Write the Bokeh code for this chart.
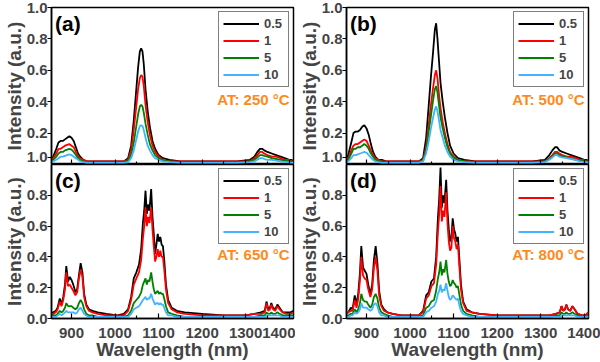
from bokeh.plotting import figure
from bokeh.layouts import gridplot
from bokeh.models import FixedTicker, Legend, LegendItem, Label, Range1d, NumeralTickFormatter
from bokeh.embed import file_html
from bokeh.resources import INLINE

# ---------------- data ----------------
series_labels = ["0.5", "1", "5", "10"]
panel_tags = ["(a)", "(b)", "(c)", "(d)"]
temperatures = ["AT: 250 °C", "AT: 500 °C", "AT: 650 °C", "AT: 800 °C"]
x_ticks = [900, 1000, 1100, 1200, 1300, 1400]
x_minor = [850, 950, 1050, 1150, 1250, 1350]
# upper panels: the lowest label ("1.0") belongs visually to the lower panel's top
y_ticks_top = [0.045, 0.2, 0.4, 0.6, 0.8, 1.0]
y_label_overrides_top = {0.045: "1.0"}
y_ticks_bottom = [0.0, 0.2, 0.4, 0.6, 0.8]

# wavelength grid for the smooth spectra (a), (b)
wl_ab = [850, 858, 865, 870, 875, 880, 885, 890,
         895, 900, 905, 910, 915, 920, 927, 935,
         945, 960, 1000, 1020, 1030, 1037, 1043, 1048,
         1053, 1057, 1060, 1063, 1066, 1070, 1075, 1080,
         1086, 1092, 1100, 1110, 1125, 1150, 1200, 1280,
         1310, 1320, 1327, 1333, 1338, 1343, 1350, 1360,
         1370, 1380, 1390, 1400, 1405, 1410]

a_05 = [0.02, 0.05, 0.10, 0.14, 0.15, 0.15, 0.16, 0.17,
        0.18, 0.17, 0.15, 0.11, 0.07, 0.05, 0.03, 0.02,
        0.02, 0.02, 0.02, 0.02, 0.04, 0.12, 0.28, 0.45,
        0.62, 0.72, 0.74, 0.72, 0.64, 0.48, 0.34, 0.24,
        0.15, 0.10, 0.06, 0.04, 0.03, 0.02, 0.02, 0.02,
        0.03, 0.05, 0.08, 0.10, 0.10, 0.09, 0.08, 0.07,
        0.06, 0.05, 0.04, 0.03, 0.03, 0.02]
a_1 = [0.02, 0.04, 0.07, 0.10, 0.10, 0.11, 0.12, 0.125,
       0.13, 0.12, 0.11, 0.08, 0.05, 0.04, 0.03, 0.02,
       0.02, 0.02, 0.02, 0.02, 0.03, 0.09, 0.22, 0.35,
       0.48, 0.55, 0.57, 0.56, 0.50, 0.38, 0.27, 0.19,
       0.12, 0.08, 0.05, 0.03, 0.02, 0.02, 0.02, 0.02,
       0.02, 0.04, 0.06, 0.08, 0.08, 0.07, 0.06, 0.05,
       0.05, 0.04, 0.03, 0.03, 0.02, 0.02]
a_5 = [0.015, 0.03, 0.05, 0.07, 0.08, 0.08, 0.09, 0.095,
       0.10, 0.095, 0.08, 0.06, 0.04, 0.03, 0.02, 0.015,
       0.015, 0.015, 0.015, 0.015, 0.025, 0.06, 0.14, 0.23,
       0.32, 0.37, 0.38, 0.37, 0.33, 0.26, 0.19, 0.13,
       0.09, 0.06, 0.04, 0.025, 0.02, 0.015, 0.015, 0.015,
       0.02, 0.03, 0.045, 0.06, 0.06, 0.055, 0.05, 0.04,
       0.035, 0.03, 0.025, 0.02, 0.02, 0.015]
a_10 = [0.01, 0.02, 0.03, 0.04, 0.05, 0.05, 0.055, 0.06,
        0.065, 0.06, 0.05, 0.04, 0.03, 0.02, 0.015, 0.01,
        0.01, 0.01, 0.01, 0.01, 0.015, 0.04, 0.09, 0.15,
        0.21, 0.245, 0.25, 0.245, 0.22, 0.17, 0.12, 0.09,
        0.06, 0.04, 0.03, 0.02, 0.015, 0.01, 0.01, 0.01,
        0.015, 0.02, 0.03, 0.04, 0.04, 0.035, 0.03, 0.03,
        0.025, 0.02, 0.015, 0.015, 0.01, 0.01]

b_05 = [0.02, 0.06, 0.14, 0.20, 0.21, 0.21, 0.22, 0.24,
        0.25, 0.23, 0.19, 0.13, 0.08, 0.05, 0.03, 0.03,
        0.02, 0.02, 0.02, 0.02, 0.04, 0.17, 0.38, 0.56,
        0.72, 0.86, 0.90, 0.80, 0.68, 0.52, 0.40, 0.30,
        0.20, 0.12, 0.07, 0.04, 0.03, 0.02, 0.02, 0.02,
        0.03, 0.06, 0.09, 0.11, 0.11, 0.09, 0.08, 0.07,
        0.06, 0.05, 0.04, 0.03, 0.03, 0.02]
b_1 = [0.02, 0.04, 0.09, 0.12, 0.13, 0.13, 0.14, 0.15,
       0.16, 0.15, 0.12, 0.09, 0.06, 0.04, 0.03, 0.02,
       0.02, 0.02, 0.02, 0.02, 0.03, 0.11, 0.26, 0.38,
       0.49, 0.57, 0.60, 0.55, 0.46, 0.36, 0.27, 0.20,
       0.13, 0.08, 0.05, 0.03, 0.02, 0.02, 0.02, 0.02,
       0.02, 0.04, 0.06, 0.08, 0.08, 0.07, 0.06, 0.05,
       0.05, 0.04, 0.03, 0.03, 0.02, 0.02]
b_5 = [0.015, 0.03, 0.07, 0.10, 0.10, 0.11, 0.11, 0.12,
       0.13, 0.12, 0.10, 0.07, 0.05, 0.03, 0.02, 0.02,
       0.015, 0.015, 0.015, 0.015, 0.025, 0.09, 0.21, 0.31,
       0.41, 0.48, 0.50, 0.46, 0.39, 0.30, 0.23, 0.17,
       0.11, 0.07, 0.04, 0.03, 0.02, 0.015, 0.015, 0.015,
       0.02, 0.035, 0.05, 0.07, 0.07, 0.06, 0.05, 0.045,
       0.04, 0.03, 0.025, 0.02, 0.02, 0.015]
b_10 = [0.01, 0.02, 0.04, 0.06, 0.06, 0.065, 0.07, 0.075,
        0.08, 0.075, 0.06, 0.045, 0.03, 0.02, 0.015, 0.01,
        0.01, 0.01, 0.01, 0.01, 0.02, 0.07, 0.15, 0.23,
        0.30, 0.35, 0.37, 0.34, 0.29, 0.22, 0.17, 0.12,
        0.08, 0.05, 0.03, 0.02, 0.015, 0.01, 0.01, 0.01,
        0.015, 0.03, 0.045, 0.06, 0.06, 0.05, 0.045, 0.04,
        0.035, 0.03, 0.02, 0.015, 0.015, 0.01]

# wavelength grid for the structured spectra (c), (d)
wl_cd = [850, 858, 864, 868, 873, 877, 881, 885,
         888, 892, 896, 900, 904, 909, 913, 917,
         921, 925, 929, 934, 940, 948, 960, 980,
         1005, 1020, 1030, 1037, 1043, 1049, 1055, 1060,
         1064, 1067, 1070, 1073, 1076, 1079, 1083, 1086,
         1089, 1092, 1095, 1098, 1101, 1104, 1107, 1110,
         1113, 1117, 1122, 1130, 1142, 1160, 1200, 1250,
         1300, 1320, 1335, 1344, 1348, 1352, 1356, 1359,
         1363, 1368, 1373, 1378, 1385, 1395, 1403, 1410]

c_05 = [0.03, 0.04, 0.05, 0.07, 0.13, 0.09, 0.14, 0.22,
        0.34, 0.24, 0.27, 0.25, 0.22, 0.17, 0.19, 0.28,
        0.36, 0.30, 0.16, 0.09, 0.06, 0.05, 0.04, 0.03,
        0.02, 0.03, 0.06, 0.14, 0.26, 0.30, 0.35, 0.45,
        0.62, 0.70, 0.83, 0.68, 0.74, 0.70, 0.84, 0.66,
        0.55, 0.42, 0.48, 0.55, 0.50, 0.53, 0.48, 0.47,
        0.38, 0.22, 0.12, 0.07, 0.05, 0.04, 0.03, 0.02,
        0.02, 0.03, 0.04, 0.05, 0.11, 0.06, 0.07, 0.10,
        0.07, 0.06, 0.09, 0.07, 0.04, 0.04, 0.04, 0.05]
c_1 = [0.02, 0.03, 0.04, 0.06, 0.11, 0.08, 0.12, 0.19,
       0.30, 0.21, 0.22, 0.20, 0.18, 0.15, 0.17, 0.26,
       0.32, 0.27, 0.14, 0.08, 0.05, 0.04, 0.03, 0.02,
       0.02, 0.02, 0.05, 0.12, 0.22, 0.26, 0.30, 0.38,
       0.52, 0.60, 0.72, 0.60, 0.66, 0.62, 0.72, 0.58,
       0.47, 0.37, 0.40, 0.45, 0.40, 0.44, 0.40, 0.40,
       0.32, 0.19, 0.10, 0.06, 0.04, 0.03, 0.02, 0.02,
       0.02, 0.03, 0.03, 0.04, 0.10, 0.05, 0.06, 0.09,
       0.06, 0.05, 0.08, 0.06, 0.04, 0.03, 0.03, 0.04]
c_5 = [0.01, 0.02, 0.02, 0.03, 0.05, 0.04, 0.05, 0.07,
       0.10, 0.08, 0.08, 0.08, 0.07, 0.06, 0.07, 0.10,
       0.12, 0.10, 0.06, 0.03, 0.02, 0.02, 0.01, 0.01,
       0.01, 0.01, 0.02, 0.05, 0.10, 0.12, 0.14, 0.17,
       0.22, 0.24, 0.26, 0.22, 0.25, 0.24, 0.30, 0.24,
       0.19, 0.16, 0.17, 0.18, 0.16, 0.17, 0.16, 0.16,
       0.13, 0.08, 0.04, 0.03, 0.02, 0.01, 0.01, 0.01,
       0.01, 0.01, 0.02, 0.02, 0.04, 0.03, 0.03, 0.04,
       0.03, 0.03, 0.04, 0.03, 0.02, 0.02, 0.02, 0.02]
c_10 = [0.01, 0.01, 0.01, 0.02, 0.03, 0.02, 0.03, 0.04,
        0.05, 0.04, 0.04, 0.04, 0.04, 0.03, 0.04, 0.06,
        0.07, 0.05, 0.03, 0.02, 0.01, 0.01, 0.01, 0.01,
        0.01, 0.01, 0.01, 0.03, 0.06, 0.07, 0.08, 0.10,
        0.12, 0.13, 0.14, 0.12, 0.13, 0.13, 0.16, 0.13,
        0.11, 0.09, 0.10, 0.10, 0.09, 0.10, 0.09, 0.09,
        0.07, 0.04, 0.02, 0.02, 0.01, 0.01, 0.01, 0.01,
        0.01, 0.01, 0.01, 0.01, 0.02, 0.02, 0.02, 0.02,
        0.02, 0.02, 0.02, 0.02, 0.01, 0.01, 0.01, 0.01]

d_05 = [0.03, 0.04, 0.07, 0.06, 0.15, 0.09, 0.16, 0.30,
        0.47, 0.33, 0.31, 0.29, 0.22, 0.16, 0.22, 0.38,
        0.47, 0.36, 0.18, 0.09, 0.06, 0.04, 0.03, 0.02,
        0.02, 0.02, 0.05, 0.15, 0.17, 0.24, 0.26, 0.40,
        0.65, 0.78, 0.98, 0.72, 0.80, 0.75, 0.90, 0.70,
        0.58, 0.50, 0.52, 0.65, 0.58, 0.55, 0.50, 0.53,
        0.40, 0.22, 0.11, 0.06, 0.04, 0.03, 0.02, 0.02,
        0.02, 0.02, 0.03, 0.04, 0.08, 0.05, 0.06, 0.09,
        0.06, 0.05, 0.08, 0.06, 0.03, 0.02, 0.02, 0.04]
d_1 = [0.03, 0.04, 0.05, 0.05, 0.12, 0.07, 0.13, 0.25,
       0.40, 0.28, 0.26, 0.25, 0.19, 0.14, 0.19, 0.33,
       0.40, 0.31, 0.15, 0.08, 0.05, 0.04, 0.03, 0.02,
       0.02, 0.02, 0.04, 0.13, 0.15, 0.21, 0.23, 0.35,
       0.56, 0.68, 0.86, 0.63, 0.70, 0.66, 0.82, 0.62,
       0.50, 0.44, 0.46, 0.60, 0.52, 0.50, 0.45, 0.48,
       0.35, 0.19, 0.10, 0.05, 0.04, 0.03, 0.02, 0.02,
       0.02, 0.02, 0.03, 0.04, 0.08, 0.05, 0.06, 0.09,
       0.06, 0.05, 0.08, 0.06, 0.03, 0.02, 0.02, 0.04]
d_5 = [0.02, 0.02, 0.03, 0.03, 0.06, 0.04, 0.06, 0.10,
       0.16, 0.12, 0.11, 0.11, 0.09, 0.07, 0.09, 0.14,
       0.16, 0.13, 0.07, 0.04, 0.03, 0.02, 0.01, 0.01,
       0.01, 0.01, 0.02, 0.07, 0.08, 0.11, 0.12, 0.18,
       0.26, 0.30, 0.37, 0.28, 0.32, 0.30, 0.38, 0.29,
       0.24, 0.21, 0.22, 0.25, 0.23, 0.22, 0.20, 0.21,
       0.16, 0.09, 0.05, 0.03, 0.02, 0.01, 0.01, 0.01,
       0.01, 0.01, 0.02, 0.02, 0.04, 0.03, 0.03, 0.04,
       0.03, 0.03, 0.04, 0.03, 0.02, 0.01, 0.01, 0.02]
d_10 = [0.01, 0.01, 0.02, 0.02, 0.04, 0.03, 0.04, 0.06,
        0.10, 0.07, 0.07, 0.07, 0.06, 0.05, 0.06, 0.09,
        0.10, 0.08, 0.04, 0.02, 0.02, 0.01, 0.01, 0.01,
        0.01, 0.01, 0.01, 0.04, 0.05, 0.07, 0.08, 0.11,
        0.16, 0.18, 0.22, 0.17, 0.19, 0.18, 0.23, 0.18,
        0.14, 0.12, 0.13, 0.15, 0.14, 0.13, 0.12, 0.13,
        0.09, 0.05, 0.03, 0.02, 0.01, 0.01, 0.01, 0.01,
        0.01, 0.01, 0.01, 0.01, 0.02, 0.02, 0.02, 0.02,
        0.02, 0.02, 0.02, 0.02, 0.01, 0.01, 0.01, 0.01]

# ---------------- styling ----------------
FONT = "Liberation Sans"
COLORS = ["#000000", "#FF0000", "#008000", "#40B4FF"]
ORANGE = "#FF8A1C"
X0, X1 = 854, 1410


def make_panel(wl, ys, idx, top, right):
    p = figure(
        width=305 if right else 295,
        height=164 if top else 198,
        x_range=Range1d(X0, X1), y_range=Range1d(0, 1.0),
        output_backend="svg", toolbar_location=None,
        min_border_left=48, min_border_right=12 if right else 2,
        min_border_top=7 if top else 0, min_border_bottom=0 if top else 44,
    )
    p.grid.grid_line_color = None
    p.outline_line_color = "black"
    p.outline_line_width = 1.5
    p.background_fill_color = "white"
    p.border_fill_color = "white"

    renderers = []
    for y, c in zip(ys, COLORS):
        renderers.append(p.line(wl, y, line_color=c, line_width=1.8))

    # x axis
    xa = p.xaxis[0]
    xa.ticker = FixedTicker(ticks=x_ticks, minor_ticks=x_minor)
    xa.major_tick_in = 5
    xa.major_tick_out = 0
    xa.minor_tick_in = 3
    xa.minor_tick_out = 0
    xa.axis_line_width = 1.5
    xa.major_tick_line_width = 1.2
    xa.minor_tick_line_width = 1.2
    xa.major_label_text_font = FONT
    xa.major_label_text_font_style = "bold"
    if top:
        xa.major_label_overrides = {t: "" for t in x_ticks}
        xa.major_label_text_font_size = "1px"
        xa.major_label_standoff = 0
    else:
        xa.major_label_text_font_size = "15px"
        xa.major_label_standoff = 9
        xa.axis_label = "Wavelength (nm)"
        xa.axis_label_text_font = FONT
        xa.axis_label_text_font_style = "bold"
        xa.axis_label_text_font_size = "19px"
        xa.axis_label_standoff = -2

    # y axis
    ya = p.yaxis[0]
    ya.ticker = FixedTicker(ticks=y_ticks_top if top else y_ticks_bottom, minor_ticks=[])
    ya.formatter = NumeralTickFormatter(format="0.0")
    if top:
        ya.major_label_overrides = y_label_overrides_top
    ya.major_tick_in = 0
    ya.major_tick_out = 4
    ya.major_tick_line_width = 1.2
    ya.axis_line_width = 1.5
    ya.major_label_text_font = FONT
    ya.major_label_text_font_style = "bold"
    ya.major_label_text_font_size = "15px"
    ya.major_label_standoff = 0
    ya.axis_label = "Intensity (a.u.)"
    ya.axis_label_text_font = FONT
    ya.axis_label_text_font_style = "bold"
    ya.axis_label_text_font_size = "19px"
    ya.axis_label_standoff = -1

    legend = Legend(
        items=[LegendItem(label=lab, renderers=[r]) for lab, r in zip(series_labels, renderers)],
        location="top_right", margin=4, padding=4, spacing=2,
        glyph_width=36, glyph_height=15, label_height=15, label_standoff=5,
        label_text_font=FONT, label_text_font_style="bold", label_text_font_size="13px",
        border_line_color="black", border_line_width=1.2,
        background_fill_color="white", background_fill_alpha=1.0,
    )
    p.add_layout(legend)

    p.add_layout(Label(x=X1 - 9, y=0.415, text=temperatures[idx], text_color=ORANGE,
                       text_font=FONT, text_font_style="bold", text_font_size="15px",
                       text_align="right", text_baseline="middle"))
    p.add_layout(Label(x=X0 + 8, y=0.895, text=panel_tags[idx], text_color="black",
                       text_font=FONT, text_font_style="bold", text_font_size="21px",
                       text_align="left", text_baseline="middle"))
    return p


pa = make_panel(wl_ab, [a_05, a_1, a_5, a_10], 0, True, False)
pb = make_panel(wl_ab, [b_05, b_1, b_5, b_10], 1, True, True)
pc = make_panel(wl_cd, [c_05, c_1, c_5, c_10], 2, False, False)
pd = make_panel(wl_cd, [d_05, d_1, d_5, d_10], 3, False, True)

grid = gridplot([[pa, pb], [pc, pd]], toolbar_location=None)

open("out.html", "w").write(file_html(grid, INLINE))
